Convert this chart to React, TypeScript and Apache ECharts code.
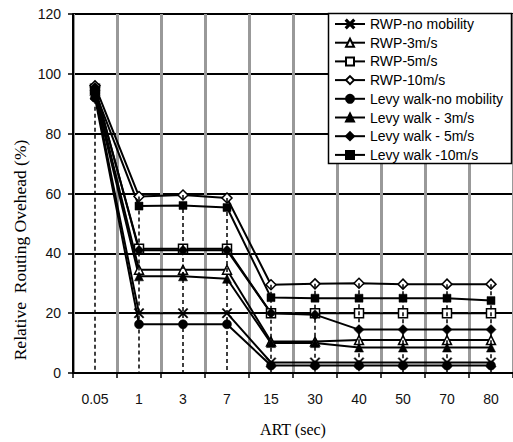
import React, { useEffect, useRef } from "react";
import * as echarts from "echarts";

const categories = ["0.05", "1", "3", "7", "15", "30", "40", "50", "70", "80"];
const rwpNoMobility = [93, 20, 20, 20, 3.5, 3.5, 3.5, 3.5, 3.5, 3.5];
const rwp3 = [94.5, 34.5, 34.5, 34.5, 10.5, 10.5, 11, 11, 11, 11];
const rwp5 = [95, 41.5, 41.5, 41.5, 20, 20, 20, 20, 20, 20];
const rwp10 = [96, 59, 59.5, 58.5, 29.5, 29.8, 30, 29.7, 29.7, 29.7];
const levyNoMobility = [92, 16.3, 16.3, 16.3, 2.5, 2.5, 2.5, 2.5, 2.5, 2.5];
const levy3 = [93, 32.3, 32.3, 31.5, 10, 10, 8.5, 8.5, 8.5, 8.5];
const levy5 = [95.5, 41, 41, 41, 20, 19.5, 14.5, 14.5, 14.5, 14.5];
const levy10 = [94, 55.8, 56, 55.3, 25.2, 25, 25, 25, 25, 24.2];
const yTicks = [0, 20, 40, 60, 80, 100, 120];

const CROSS =
  "path://M0,1L1,0L5,4L9,0L10,1L6,5L10,9L9,10L5,6L1,10L0,9L4,5Z";

const seriesDefs = [
  { name: "RWP-no mobility", data: rwpNoMobility, symbol: CROSS, size: 10, open: false },
  { name: "RWP-3m/s", data: rwp3, symbol: "triangle", size: 9, open: true },
  { name: "RWP-5m/s", data: rwp5, symbol: "rect", size: 9, open: true },
  { name: "RWP-10m/s", data: rwp10, symbol: "diamond", size: 10, open: true },
  { name: "Levy walk-no mobility", data: levyNoMobility, symbol: "circle", size: 9, open: false },
  { name: "Levy walk - 3m/s", data: levy3, symbol: "triangle", size: 9, open: false },
  { name: "Levy walk - 5m/s", data: levy5, symbol: "diamond", size: 10, open: false },
  { name: "Levy walk -10m/s", data: levy10, symbol: "rect", size: 8, open: false },
];

export default function App() {
  const ref = useRef<HTMLDivElement>(null);
  useEffect(() => {
    if (!ref.current) return;
    const chart = echarts.init(ref.current, null, { renderer: "svg" });
    const maxPerCat = categories.map((_, i) =>
      Math.max(...seriesDefs.map((s) => s.data[i]))
    );
    const series: any[] = seriesDefs.map((s) => ({
      name: s.name,
      type: "line",
      data: s.data,
      symbol: s.symbol,
      symbolSize: s.size,
      z: 3,
      lineStyle: { color: "#000", width: 2 },
      itemStyle: s.open
        ? { color: "#fff", borderColor: "#000", borderWidth: 1.5 }
        : { color: "#000", borderColor: "#000", borderWidth: 0.5 },
      emphasis: { disabled: true },
    }));
    series.push({
      name: "drop",
      type: "line",
      data: [],
      z: 2,
      silent: true,
      markLine: {
        silent: true,
        symbol: ["none", "none"],
        label: { show: false },
        lineStyle: { type: [4, 3], color: "#000", width: 1.5 },
        data: categories.map((c, i) => [
          { coord: [c, maxPerCat[i]] },
          { coord: [c, 0] },
        ]),
      },
    });
    chart.setOption({
      animation: false,
      grid: { left: 73, right: 0, top: 14, bottom: 68 },
      legend: {
        data: seriesDefs.map((s) => s.name),
        orient: "vertical",
        left: 328,
        top: 13,
        z: 20,
        padding: [4, 4, 4, 6],
        itemWidth: 30,
        itemHeight: 10,
        itemGap: 4.7,
        textStyle: {
          fontFamily: "Liberation Sans",
          fontSize: 14,
          lineHeight: 14,
          color: "#000",
        },
        selectedMode: false,
      },
      xAxis: {
        type: "category",
        data: categories,
        boundaryGap: true,
        axisLine: { lineStyle: { color: "#000", width: 2 } },
        axisTick: { show: true, length: 5, lineStyle: { color: "#000", width: 1.5 } },
        axisLabel: {
          interval: 0,
          margin: 19,
          fontFamily: "Liberation Sans",
          fontSize: 14,
          color: "#111",
        },
        splitLine: { show: true, interval: 0, lineStyle: { color: "#999", width: 3 } },
        name: "ART (sec)",
        nameLocation: "middle",
        nameGap: 48,
        nameTextStyle: { fontFamily: "Liberation Serif", fontSize: 16, color: "#000" },
      },
      yAxis: {
        type: "value",
        min: yTicks[0],
        max: yTicks[yTicks.length - 1],
        interval: 20,
        axisLine: { show: true, lineStyle: { color: "#000", width: 2 } },
        axisTick: { show: true, length: 5, lineStyle: { color: "#000", width: 1.5 } },
        axisLabel: {
          margin: 12,
          fontFamily: "Liberation Sans",
          fontSize: 14,
          color: "#111",
        },
        splitLine: { show: true, lineStyle: { color: "#000", width: 2 } },
      },
      graphic: [
        {
          type: "rect",
          z: 10,
          shape: { x: 328.5, y: 13.5, width: 183, height: 150 },
          style: { fill: "#fff", stroke: "#000", lineWidth: 1.5 },
          silent: true,
        },
        {
          type: "text",
          x: 20,
          y: 250,
          rotation: Math.PI / 2,
          style: {
            text: "Relative  Routing Ovehead (%)",
            font: "17.5px 'Liberation Serif'",
            fill: "#000",
            textAlign: "center",
            textVerticalAlign: "middle",
          },
        },
      ],
      series,
    });
    return () => chart.dispose();
  }, []);
  return <div ref={ref} style={{ width: 513, height: 442, position: "absolute", left: 0, top: 0 }} />;
}
